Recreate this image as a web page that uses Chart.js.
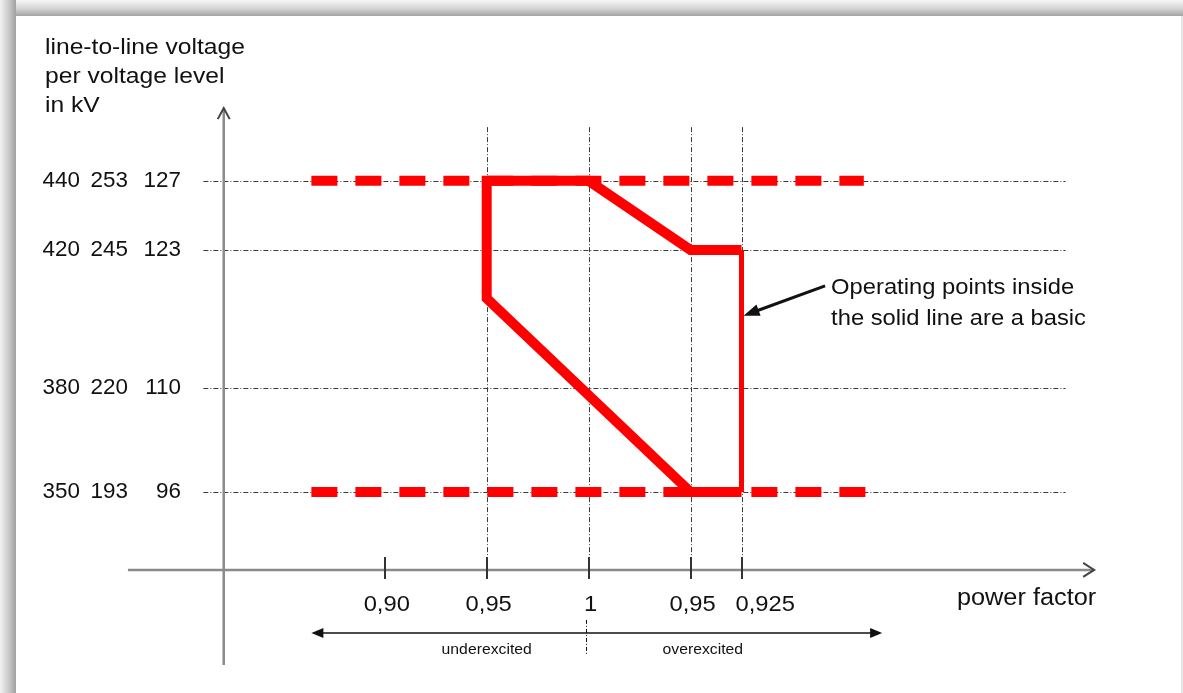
<!DOCTYPE html>
<html>
<head>
<meta charset="utf-8">
<script src="https://cdn.jsdelivr.net/npm/chart.js@4"></script>
<style>
  body { margin: 0; background: #fff; }
  #wrap { position: absolute; left: 0; top: 0; width: 1183px; height: 693px; background: #fff; overflow: hidden; }
  .band-top { position: absolute; left: 0; top: 0; width: 1183px; height: 16px; background: linear-gradient(to bottom, #f7f7f7, #d2d2d2 55%, #a3a3a3); }
  .band-left { position: absolute; left: 0; top: 0; width: 16px; height: 693px; background: linear-gradient(to right, #f2f2f2, #c9c9c9 55%, #a0a0a0); }
  .edge-right { position: absolute; right: 0; top: 16px; width: 2px; height: 677px; background: #e4e4e4; }
  canvas { position: absolute; left: 0; top: 0; }
</style>
</head>
<body>
<div id="wrap">
  <div class="band-top"></div>
  <div class="band-left"></div>
  <div class="edge-right"></div>
  <canvas id="chart" width="1183" height="693"></canvas>
</div>
<script>
// power factor as signed distance from 1 (underexcited < 0, overexcited > 0)
const pfLabels = ['0,90', '0,95', '1', '0,95', '0,925'];
const pfValues = [-0.10, -0.05, 0, 0.05, 0.075];
const pfGrid = [-0.05, 0, 0.05, 0.075];

// voltage levels (380 kV level drives the y scale)
const kv380 = [440, 420, 380, 350];
const kv220 = [253, 245, 220, 193];
const kv110 = [127, 123, 110, 96];

// solid operating range outline
const outlinePf = [0.075, 0.05, 0, -0.05, -0.05, 0.05, 0.075];
const outlineKv = [420, 420, 440, 440, 406, 350, 350];
const edgePf = [0.075, 0.075];
const edgeKv = [420, 350];

// dashed limits
const upperPf = [-0.136, 0.135];
const upperKv = [440, 440];
const lowerPf = [-0.136, 0.144];
const lowerKv = [350, 350];

const FONT = '"Liberation Sans", Arial, sans-serif';
const RED = '#ff0000';

function pts(xs, ys) {
    return xs.map((x, i) => ({ x: x, y: ys[i] }));
}

function txt(ctx, str, x, y, size, align, sx) {
    ctx.save();
    ctx.font = size + 'px ' + FONT;
    ctx.fillStyle = '#111';
    ctx.textAlign = align;
    ctx.textBaseline = 'alphabetic';
    ctx.translate(x, y);
    ctx.scale(sx || 1, 1);
    ctx.fillText(str, 0, 0);
    ctx.restore();
}

function line(ctx, x1, y1, x2, y2) {
    ctx.beginPath();
    ctx.moveTo(x1, y1);
    ctx.lineTo(x2, y2);
    ctx.stroke();
}

function arrowHead(ctx, tx, ty, fx, fy, len, half) {
    const a = Math.atan2(ty - fy, tx - fx);
    ctx.beginPath();
    ctx.moveTo(tx, ty);
    ctx.lineTo(tx - len * Math.cos(a) + half * Math.sin(a), ty - len * Math.sin(a) - half * Math.cos(a));
    ctx.lineTo(tx - len * Math.cos(a) - half * Math.sin(a), ty - len * Math.sin(a) + half * Math.cos(a));
    ctx.closePath();
    ctx.fill();
}

const axisKv = 327.5;   // level of the power factor axis
const axisPf = -0.179;  // position of the voltage axis

const diagram = {
    id: 'diagram',
    beforeDatasetsDraw(chart) {
        const ctx = chart.ctx;
        const xs = chart.scales.x, ys = chart.scales.y;
        const axY = ys.getPixelForValue(axisKv);
        ctx.save();
        ctx.strokeStyle = '#3a3a3a';
        ctx.lineWidth = 1;
        ctx.setLineDash([5, 2, 1, 2]);
        kv380.forEach(v => {
            const y = Math.round(ys.getPixelForValue(v)) + 0.5;
            line(ctx, xs.getPixelForValue(-0.189), y, xs.getPixelForValue(0.234), y);
        });
        pfGrid.forEach(v => {
            const x = Math.round(xs.getPixelForValue(v)) + 0.5;
            line(ctx, x, ys.getPixelForValue(455.5), x, axY - 12);
        });
        ctx.restore();

        // axes
        ctx.save();
        ctx.strokeStyle = '#8a8a8a';
        ctx.lineWidth = 2.5;
        const yAxX = xs.getPixelForValue(axisPf);
        const yTop = ys.getPixelForValue(461);
        line(ctx, yAxX, ys.getPixelForValue(300), yAxX, yTop);
        const xStart = xs.getPixelForValue(-0.226), xEnd = xs.getPixelForValue(0.248);
        line(ctx, xStart, axY, xEnd, axY);
        ctx.strokeStyle = '#444';
        ctx.lineWidth = 2;
        ctx.beginPath();
        ctx.moveTo(yAxX - 6, yTop + 11);
        ctx.lineTo(yAxX, yTop);
        ctx.lineTo(yAxX + 6, yTop + 11);
        ctx.moveTo(xEnd - 11, axY - 7);
        ctx.lineTo(xEnd, axY);
        ctx.lineTo(xEnd - 11, axY + 7);
        ctx.stroke();
        // ticks
        ctx.strokeStyle = '#333';
        ctx.lineWidth = 2;
        pfValues.forEach(v => {
            const x = Math.round(xs.getPixelForValue(v));
            line(ctx, x, axY - 13, x, axY + 9);
        });
        ctx.restore();
    },
    afterDraw(chart) {
        const ctx = chart.ctx;
        const xs = chart.scales.x, ys = chart.scales.y;
        const axY = ys.getPixelForValue(axisKv);

        // axis title
        txt(ctx, 'line-to-line voltage', 45, 54, 22, 'left', 1.12);
        txt(ctx, 'per voltage level', 45, 83, 22, 'left', 1.12);
        txt(ctx, 'in kV', 45, 112, 22, 'left', 1.12);

        // voltage labels, three levels
        kv380.forEach((v, i) => {
            const y = ys.getPixelForValue(v) + 6;
            txt(ctx, String(v), 80, y, 22, 'right', 1.02);
            txt(ctx, String(kv220[i]), 128, y, 22, 'right', 1.02);
            txt(ctx, String(kv110[i]), 181, y, 22, 'right', 1.02);
        });

        // power factor labels
        pfValues.forEach((v, i) => {
            const x = xs.getPixelForValue(v);
            if (i === pfValues.length - 1) {
                txt(ctx, pfLabels[i], x - 6, axY + 41, 22, 'left', 1.08);
            } else {
                txt(ctx, pfLabels[i], x + 2, axY + 41, 22, 'center', 1.08);
            }
        });
        txt(ctx, 'power factor', xs.getPixelForValue(0.248) + 2, axY + 35, 23, 'right', 1.1);

        // under / over excited arrows
        const ay = axY + 63;
        const aL = xs.getPixelForValue(-0.136), aR = xs.getPixelForValue(0.144), aM = xs.getPixelForValue(0);
        ctx.save();
        ctx.strokeStyle = '#111';
        ctx.fillStyle = '#111';
        ctx.lineWidth = 1.5;
        line(ctx, aL + 6, ay, aR - 6, ay);
        arrowHead(ctx, aL, ay, aR, ay, 12, 5);
        arrowHead(ctx, aR, ay, aL, ay, 12, 5);
        ctx.lineWidth = 1;
        ctx.setLineDash([4, 2, 1, 2]);
        line(ctx, Math.round(aM) - 2.5, ay - 13, Math.round(aM) - 2.5, ay + 22);
        ctx.restore();
        txt(ctx, 'underexcited', xs.getPixelForValue(-0.05), ay + 21, 15, 'center', 1.05);
        txt(ctx, 'overexcited', xs.getPixelForValue(0.056), ay + 21, 15, 'center', 1.05);

        // annotation
        const tipX = xs.getPixelForValue(0.075) + 2, tipY = ys.getPixelForValue(401);
        const tailX = xs.getPixelForValue(0.116), tailY = ys.getPixelForValue(409.6);
        ctx.save();
        ctx.strokeStyle = '#111';
        ctx.fillStyle = '#111';
        ctx.lineWidth = 3;
        const a = Math.atan2(tipY - tailY, tipX - tailX);
        line(ctx, tailX, tailY, tipX - 10 * Math.cos(a), tipY - 10 * Math.sin(a));
        arrowHead(ctx, tipX, tipY, tailX, tailY, 16, 6);
        ctx.restore();
        txt(ctx, 'Operating points inside', tailX + 6, tailY + 8, 22, 'left', 1.08);
        txt(ctx, 'the solid line are a basic', tailX + 6, tailY + 39, 22, 'left', 1.08);
    }
};

new Chart(document.getElementById('chart'), {
    type: 'scatter',
    data: {
        datasets: [
            {
                label: 'upper limit',
                data: pts(upperPf, upperKv),
                showLine: true,
                borderColor: RED,
                borderWidth: 10,
                borderDash: [26, 18],
                borderCapStyle: 'butt',
                pointRadius: 0
            },
            {
                label: 'lower limit',
                data: pts(lowerPf, lowerKv),
                showLine: true,
                borderColor: RED,
                borderWidth: 10,
                borderDash: [26, 18],
                borderCapStyle: 'butt',
                pointRadius: 0
            },
            {
                label: 'operating range',
                data: pts(outlinePf, outlineKv),
                showLine: true,
                borderColor: RED,
                borderWidth: 10,
                borderJoinStyle: 'miter',
                borderCapStyle: 'butt',
                pointRadius: 0
            },
            {
                label: 'operating range edge',
                data: pts(edgePf, edgeKv),
                showLine: true,
                borderColor: RED,
                borderWidth: 5,
                borderCapStyle: 'butt',
                pointRadius: 0
            }
        ]
    },
    options: {
        responsive: false,
        animation: false,
        layout: { padding: { left: 79, right: 44, top: 77, bottom: 28 } },
        scales: {
            x: { type: 'linear', min: -0.25, max: 0.27, display: false },
            y: { type: 'linear', min: 300, max: 470, display: false }
        },
        plugins: {
            legend: { display: false },
            tooltip: { enabled: false }
        }
    },
    plugins: [diagram]
});
</script>
</body>
</html>
